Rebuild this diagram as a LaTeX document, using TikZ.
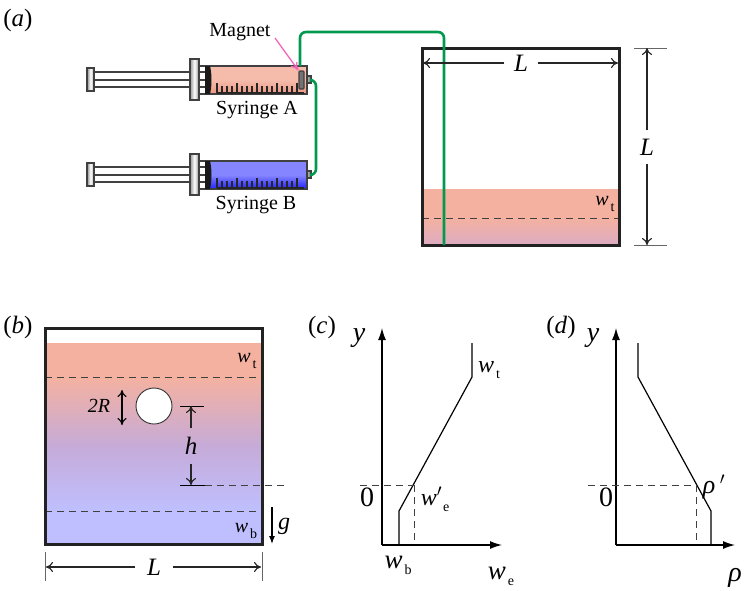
\documentclass[tikz,border=0pt]{standalone}
\usepackage{fontspec}
\setmainfont{Liberation Serif}
\usetikzlibrary{arrows.meta}
\definecolor{salmon}{HTML}{F4B1A0}
\definecolor{lilac}{HTML}{BFBFFF}
\definecolor{pinkmix}{HTML}{DDACC2}
\definecolor{midmix}{HTML}{C6ABD8}
\definecolor{tubegreen}{HTML}{00994D}
\definecolor{edge}{HTML}{222222}
\newcommand{\sub}[2]{\textit{#1}\kern2pt\raisebox{-6pt}{\fontsize{14}{14}\selectfont #2}}
\tikzset{
  lab/.style={inner sep=0pt,font=\fontsize{20}{20}\selectfont},
  biglab/.style={inner sep=0pt,font=\fontsize{25}{25}\selectfont},
  dimlab/.style={inner sep=0pt,minimum size=#1,font=\fontsize{25}{25}\selectfont\itshape},
  tank/.style={edge,line width=3pt},
  tube/.style={tubegreen,line width=2.6pt,rounded corners=6pt},
  dim/.style={-{To[length=7pt,width=10pt]},line width=1.1pt,black!85},
  thin dash/.style={dashed,dash pattern=on 7pt off 5pt,line width=0.9pt,black!75},
  axis/.style={-{Latex[length=12pt,width=8pt]},line width=1.3pt},
  curve/.style={line width=1.2pt},
  part/.style={draw=black!75,line width=1.1pt},
}
\begin{document}
\begin{tikzpicture}[x=1pt,y=-1pt]
\useasboundingbox (0,0) rectangle (747,590);
% syringes
\foreach \dy/\topcol/\botcol in {0/F5BBAB/EC9580,95/8585FF/2222FF} {
\begin{scope}[yshift=-\dy pt]
\definecolor{bt}{HTML}{\topcol}\definecolor{bb}{HTML}{\botcol}
\fill[white] (94,72) rectangle (205,87);
\draw[part] (94,72) -- (205,72);
\draw[part] (94,80) -- (205,80);
\draw[part] (94,87) -- (205,87);
\shade[part,left color=black!45,right color=black!35,middle color=white] (87,68) rectangle (94,91);
\draw[part] (199,66) -- (208,66);
\draw[part] (199,94) -- (208,94);
\shade[part,left color=black!40,right color=black!45,middle color=white] (190,59) rectangle (199,100);
\shade[part,top color=bt,bottom color=bb,middle color=bt] (207,66) rectangle (307,94);
\fill[black!90] (205,66) -- (210,66) .. controls (212,74) and (212,86) .. (210,94) -- (205,94) -- cycle;
\foreach \i in {0,...,16} {
  \pgfmathsetmacro{\tx}{217+5*\i}
  \pgfmathsetmacro{\th}{ifthenelse(mod(\i,4)==0,10,7)}
  \draw[black!85,line width=1.1pt] (\tx,93) -- (\tx,93-\th);
}
\draw[black!85,line width=1.1pt] (217,93) -- (304,93);
\shade[part,left color=black!30,right color=black!50] (307,76) rectangle (311,83);
\end{scope}
}
\node[part,fill=black!55,rounded corners=1pt,inner sep=0pt,minimum width=5pt,minimum height=18pt] (magnet) at (301.5,80) {};
% tubing
\coordinate (tubeA) at (300,66);
\coordinate (tubeend) at (444,245);
\coordinate (nozzleA) at (311,80);
\coordinate (nozzleB) at (311,175);
\draw[tube] (nozzleA) -- (316,80) -- (316,175) -- (nozzleB);
\node[lab] (maglabel) at (240,32) {Magnet};
\coordinate (magtail) at (275,38);
\draw[-{To[length=8pt,width=8pt]},magenta!60!white,line width=1.3pt] (magtail) -- (magnet.north west);
\node[lab] (labelA) at (257,110) {Syringe A};
\node[lab] (labelB) at (256,205) {Syringe B};
\node[biglab] (panela) at (18,20) {(\textit{a})};
% tank
\fill[salmon] (422,189) rectangle (619,218);
\shade[top color=salmon,bottom color=pinkmix] (422,218) rectangle (619,245);
\draw[thin dash] (422,218) -- (619,218);
\draw[tank] (422,48) rectangle (619,245);
\draw[tube] (tubeA) -- (300,32) -- (444,32) -- (tubeend);
\coordinate (tankL) at (423,63);
\coordinate (tankR) at (618,63);
\node[dimlab=33pt] (widthL) at (521,63) {L};
\draw[dim] (widthL) -- (tankL);
\draw[dim] (widthL) -- (tankR);
\draw[black!60,line width=0.9pt] (634,48) -- (667,48);
\draw[black!60,line width=0.9pt] (634,245) -- (667,245);
\coordinate (sideT) at (647,48);
\coordinate (sideB) at (647,245);
\node[dimlab=33pt] (heightL) at (647,147) {L};
\draw[dim] (heightL) -- (sideT);
\draw[dim] (heightL) -- (sideB);
\node[lab] (wta) at (605,204) {\sub{w}{t}};
% panel b
\fill[salmon] (45,343) rectangle (262,377);
\shade[top color=salmon,bottom color=midmix] (45,377) rectangle (262,446);
\shade[top color=midmix,bottom color=lilac] (45,446) rectangle (262,511);
\fill[lilac] (45,511) rectangle (262,544);
\draw[thin dash] (45,377) -- (262,377);
\draw[thin dash] (45,511) -- (262,511);
\draw[tank] (45,328) rectangle (262,544);
\node[circle,draw=black!80,fill=white,line width=0.9pt,minimum size=36pt,inner sep=0pt] (sphere) at (154,406) {};
\node[biglab] (panelb) at (18,327) {(\textit{b})};
\coordinate (diaT) at (122,390);
\coordinate (diaB) at (122,425);
\draw[{To[length=7pt,width=9pt]}-{To[length=7pt,width=9pt]},line width=1.1pt] (diaT) -- (diaB);
\node[lab,font=\fontsize{20}{20}\selectfont\itshape] (dialab) at (99,406) {2R};
\draw[line width=0.9pt] (180,406) -- (204,406);
\draw[line width=0.9pt] (180,485) -- (205,485);
\draw[thin dash] (205,485) -- (285,485);
\coordinate (hT) at (191,406);
\coordinate (hB) at (191,485);
\node[dimlab=35pt] (hlab) at (191,446) {h};
\draw[dim] (hlab) -- (hT);
\draw[dim] (hlab) -- (hB);
\node[lab] (wtb) at (247,361) {\sub{w}{t}};
\node[lab] (wbb) at (246,531) {\sub{w}{b}};
\coordinate (gT) at (272,507);
\coordinate (gB) at (272,544);
\draw[-{Latex[length=8pt,width=6pt]},line width=1.2pt] (gT) -- (gB);
\node[lab,font=\fontsize{24}{24}\selectfont\itshape] (glab) at (284,526) {g};
\draw[black!60,line width=0.9pt] (45,552) -- (45,581);
\draw[black!60,line width=0.9pt] (262,552) -- (262,581);
\coordinate (baseL) at (46,567);
\coordinate (baseR) at (261,567);
\node[dimlab=37pt] (baseLab) at (154,567) {L};
\draw[dim] (baseLab) -- (baseL);
\draw[dim] (baseLab) -- (baseR);
% panel c
\coordinate (origc) at (382,545);
\coordinate (topc) at (382,328);
\coordinate (endc) at (502,545);
\draw[axis] (origc) -- (topc);
\draw[axis] (origc) -- (endc);
\draw[curve] (399,545) -- (399,511) -- (472,377) -- (472,343);
\draw[thin dash] (360,485) -- (414,485);
\draw[thin dash] (414,485) -- (414,545);
\node[biglab] (panelc) at (322,327) {(\textit{c})};
\node[biglab,font=\fontsize{28}{28}\selectfont\itshape] (yc) at (359,338) {y};
\node[biglab,font=\fontsize{24}{24}\selectfont] (wtc) at (489,370) {\sub{w}{t}};
\node[biglab,font=\fontsize{28}{28}\selectfont] (zeroc) at (367,497) {0};
\node[biglab,font=\fontsize{24}{24}\selectfont] (wpc) at (435,499) {\textit{w}$'$\kern1pt\raisebox{-6pt}{\fontsize{14}{14}\selectfont e}};
\node[biglab,font=\fontsize{27}{27}\selectfont] (wbc) at (398,565) {\sub{w}{b}};
\node[biglab,font=\fontsize{27}{27}\selectfont] (wec) at (501,576) {\sub{w}{e}};
% panel d
\coordinate (origd) at (616,545);
\coordinate (topd) at (616,328);
\coordinate (endd) at (735,545);
\draw[axis] (origd) -- (topd);
\draw[axis] (origd) -- (endd);
\draw[curve] (638,343) -- (638,377) -- (711,511) -- (711,545);
\draw[thin dash] (588,485) -- (696,485);
\draw[thin dash] (696,485) -- (696,545);
\node[biglab] (paneld) at (561,327) {(\textit{d})};
\node[biglab,font=\fontsize{28}{28}\selectfont\itshape] (yd) at (593,338) {y};
\node[biglab,font=\fontsize{28}{28}\selectfont] (zerod) at (606,497) {0};
\node[biglab,font=\fontsize{26}{26}\selectfont\itshape] (rhop) at (714,487) {ρ\,$'$};
\node[biglab,font=\fontsize{28}{28}\selectfont\itshape] (rho) at (735,578) {ρ};
\end{tikzpicture}
\end{document}
